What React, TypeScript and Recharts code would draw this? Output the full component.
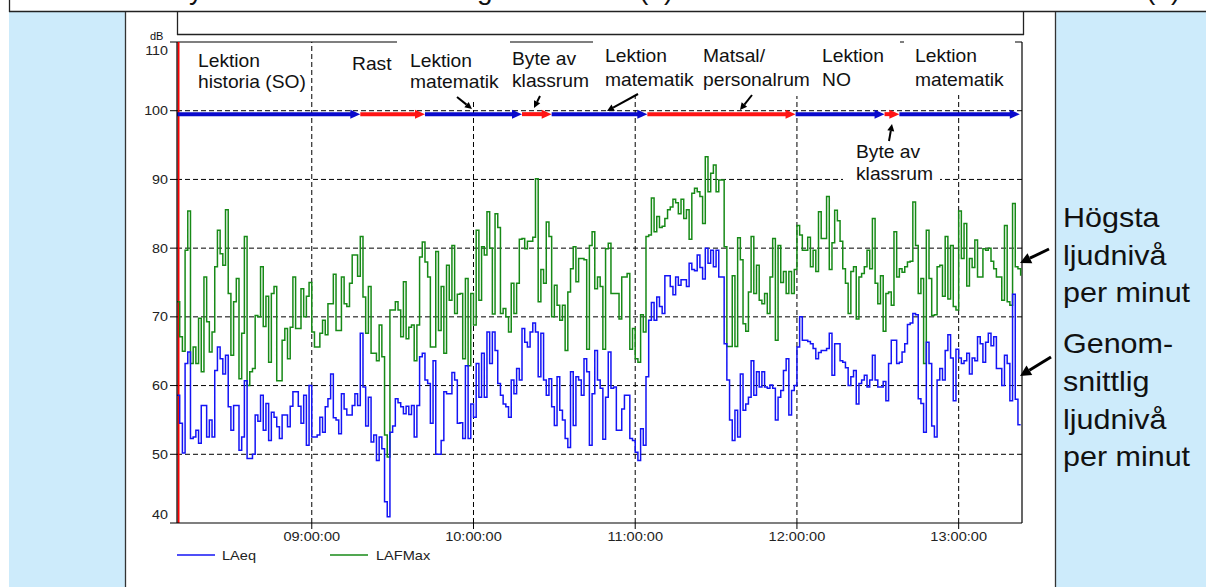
import React from 'react';
import { LineChart, Line, XAxis, YAxis, ReferenceLine } from 'recharts';

// minutes after 08:00 of first sample, one sample per minute
const START_MIN = 10;
const X_END = 323.5;

const laeqValues = [
  58.6, 54.5, 50.2, 63.2, 64.9, 52.3, 52.5, 53.5, 51.6, 57.1, 57.1, 52.5, 55, 52.5, 62.2, 65.6, 63.9, 61.7, 64.4, 56.9,
  53.5, 57.1, 57.1, 50.6, 52.5, 60.7, 49.4, 49.4, 50, 55.7, 54.8, 58.6, 53.5, 57.4, 52, 56.1, 55.4, 54, 52.3, 55.7,
  55.7, 54, 57, 59.1, 59.1, 57, 54.5, 58.6, 51.3,
  60, 52.5, 52.5, 52.8, 55.4, 53.2, 56.9, 58.1, 61.7, 55.3, 55, 53, 58.8, 56.6, 55.7, 55.7, 57.1, 58.8, 57.1, 67.6,
  59.8, 54.1, 58.3, 51.8, 52.8, 49.1, 52.5, 50.8, 43.1, 40.9, 53.2, 54.1, 58.1, 57.5, 56.9, 55.9, 57, 55.8, 57.1, 52.5,
  57.1, 64.2, 64.7, 60.8, 60.3, 54.5, 63.6, 50, 50, 52, 59.1, 58.8, 58.8, 61.9, 60.8, 54.5,
  54.6, 52.3, 62.9, 52.3, 57.3, 55.4, 63.2, 58.3, 64.7, 58.3, 67.8, 63.2, 67.8, 65.1, 60.3, 58.6, 57.3, 56.9, 55.4, 60.8,
  58.8, 62.5, 60.8, 68.3, 66.3, 65.6, 67.8, 69.1, 67.8, 61.3, 67.6, 60.8, 58.6, 61, 56.9, 54.2, 61.3, 56.4, 55, 52.3,
  51, 62, 54.2, 61.3, 60.8, 58.6, 63.9, 62, 51.3, 58.8, 65.1, 60.8,
  59.6, 52.2, 58.3, 64.9, 59.6, 59.8, 53.5, 53.5, 56.6, 58.6, 58.6, 52.3, 52, 50.3, 49.1, 53.7, 51.3, 61.3, 69.5, 72.1,
  69.5, 72.9, 71.5, 70.5, 76, 76, 74.4, 73.2, 75.8, 74.6, 75.4, 75.4, 74.4, 77.8, 76.9, 76.7, 79, 77.2, 75.5, 80,
  77.8, 79.7, 77.3, 79.7, 75.8, 75.8, 66.1, 60.8, 55, 52, 56.4, 52.5,
  61.7, 56.4, 57.3, 58.3, 63.6, 58.6, 62, 59.8, 62, 59.8, 59.6, 60.1, 59.6, 55, 58.3, 59.3, 62.2, 63.9, 55.7, 59.3,
  60, 65.6, 70, 66.6, 66.6, 66.4, 66.1, 65.4, 63.9, 64.8, 65.1, 65.1, 65.4, 67.6, 61.5, 66.1, 66.1, 63.6, 63.4, 62.6,
  60, 61.3, 62.2, 57.3, 60.3, 60.8, 61.5, 59.8, 60.8, 64.4, 60.8, 59.8,
  59.8, 60.6, 57.8, 63.2, 66.6, 66.6, 63.2, 63.4, 64.9, 66.1, 68.9, 69.1, 70.5, 70.3, 58.1, 57.4, 53.2, 66.3, 63.2, 54.1,
  52.5, 60.8, 62.5, 60.8, 65.1, 67.4, 64, 57.8, 65.3, 64, 63.2, 63.6, 64.7, 61.7, 64, 63.6, 67.1, 66.1, 63.4, 66.3,
  67.6, 65.8, 67.1, 62.5, 62.5, 60, 64.4, 63.2, 57.8, 73.3, 58, 54.3, 54.3,
];

const lafmaxValues = [
  72.2, 67.1, 65, 79.7, 85.4, 63.2, 65.6, 63.2, 69.8, 62, 75.8, 69.3, 64.9, 67.8, 77.3, 82.6, 79.2, 77.5, 85.6, 73.4,
  64.4, 72.2, 75.6, 61, 67.6, 81.7, 60, 62, 62.5, 70.2, 70, 77.3, 68.6, 73, 63.4, 73.4, 74.4, 60.7, 60.7, 66.6,
  68.3, 63.9, 68.5, 75.8, 68.3, 68.3, 74.1, 70, 73,
  75, 67.8, 65.6, 65.6, 67.6, 69.5, 67.4, 71.9, 71.9, 76.2, 68, 68, 75.8, 71.9, 71.5, 74.9, 79, 79, 75.9, 81.7,
  72.9, 67.6, 74.4, 64.7, 64.7, 63.6, 68.8, 64.2, 52.8, 49.6, 71, 71, 72.2, 71, 67.1, 75.1, 66.8, 68.5, 68.8, 63.6,
  68.8, 78.7, 80.9, 78, 75.8, 65.6, 65.6, 79.5, 68, 74.4, 64.7, 77.5, 72.4, 80.4, 70.5, 73.3,
  73.4, 63.9, 75.6, 62.9, 73.4, 68.8, 82.6, 72.4, 80.2, 79, 85.3, 80, 70.4, 85, 83, 70.5, 71.2, 70, 67.8, 74.9,
  70.5, 74.9, 81.3, 81.4, 79.9, 81, 81, 81.6, 90.1, 72.2, 76.9, 74.9, 83.8, 81.7, 70, 74.6, 71.7, 69.5, 71.7, 65.1,
  73.6, 77, 80.2, 75.1, 78.5, 78.5, 78.3, 65.3, 80.4, 82.4, 74.1, 75.8,
  74.4, 65.3, 79.9, 80.7, 73.4, 73.4, 73.4, 69.7, 75.8, 75.8, 76.3, 65.3, 68.3, 63.9, 63.4, 70.3, 67.8, 81.7, 81.9, 87.3,
  82.4, 84.6, 83, 83.2, 84.3, 85.6, 86, 87.1, 86.6, 85, 87.1, 84.3, 85.6, 81.3, 88, 88.7, 88.2, 87.5, 83.6, 93.3,
  88.2, 90.9, 92.1, 88.2, 89.9, 89.9, 80.2, 65.7, 65.7, 76, 65.7, 81.5,
  78.3, 69, 67.9, 73.6, 81.7, 73.4, 77.5, 72.4, 71.9, 73.4, 70.5, 75.8, 81.4, 66.6, 80.4, 75, 76.6, 73.4, 76.6, 73.4,
  76.9, 83.3, 81.9, 79.7, 79.7, 81.6, 77.3, 79.7, 76.6, 85.3, 81.4, 81.4, 87.5, 76.9, 80.8, 85.5, 84, 81, 77, 74.9,
  70.5, 76.6, 77.3, 69.7, 75.8, 76.3, 77.3, 79.7, 77, 84.3, 74.9, 71.9,
  76, 67.9, 73.4, 73.6, 71.7, 82.4, 75.8, 77, 76.5, 77.3, 78, 78.1, 86.7, 80.4, 73.4, 75.6, 63.2, 82.6, 75.6, 70.2,
  70.3, 77.3, 77.5, 73, 81.7, 72.6, 80.4, 71.5, 71, 85.4, 78.5, 83.6, 74.5, 78.5, 77.2, 81.2, 75.8, 75.8, 79.9, 79.7,
  80, 78.1, 77, 75.8, 75.8, 72.4, 83.3, 72.2, 71.7, 86.5, 77.3, 77, 76,
];

const hourTicks = [60, 120, 180, 240, 300];
const dbTicks = [40, 50, 60, 70, 80, 90, 100, 110];
const gridDb = [50, 60, 70, 80, 90, 100];

// activity bar (minutes after 08:00)
const activityStarts = [10, 78, 102, 138, 149, 184.5, 239.5, 272.5, 278];
const activityEnd = 322.7;
const activityKinds = ['lektion', 'rast', 'lektion', 'byte', 'lektion', 'matsal', 'lektion', 'byte', 'lektion'];
const ACTIVITY_LEVEL = 99.5;

const data = laeqValues.map((v, i) => ({ time: START_MIN + i, laeq: v, lafmax: lafmaxValues[i] }));

const FONT = "'Liberation Sans', Arial, Helvetica, sans-serif";
const BLUE = '#1414F5';
const GREEN = '#178A17';
const BAR_BLUE = '#0A0ACC';
const BAR_RED = '#FF1414';
const SIDE_BG = '#CDEBFB';

const pad = (n: number) => String(n).padStart(2, '0');
const fmtTime = (m: number) => `${pad(8 + Math.floor(m / 60))}:${pad(Math.round(m % 60))}:00`;

const XTick = (props: any) => {
  const { x, y, payload } = props;
  return (
    <text transform={`translate(${x},${y}) scale(1.12,1)`} textAnchor="middle" dy="0.71em" fontSize={13} fontFamily={FONT} fill="#222">
      {fmtTime(payload.value)}
    </text>
  );
};

const YTick = (props: any) => {
  const { x, y, payload } = props;
  const v = payload.value;
  const shift = v === 110 ? 8 : v === 40 ? -9 : 0;
  return (
    <text transform={`translate(${x},${y + shift}) scale(1.1,1)`} textAnchor="end" dy="0.355em" fontSize={13} fontFamily={FONT} fill="#222">
      {v}
    </text>
  );
};

const barShape = (color: string) => (props: any) => {
  const { x1, y1, x2 } = props;
  return (
    <g>
      <line x1={x1} y1={y1} x2={x2 - 6} y2={y1} stroke={color} strokeWidth={4} />
      <polygon points={`${x2 - 10},${y1 - 4.5} ${x2},${y1} ${x2 - 10},${y1 + 4.5}`} fill={color} />
    </g>
  );
};

const startShape = (props: any) => {
  const { x1, y1, y2 } = props;
  return <line x1={x1 + 1.5} x2={x1 + 1.5} y1={y1} y2={y2} stroke="#FF0000" strokeWidth={2} />;
};

function Arrow({ x1, y1, x2, y2, w = 2, head = 7 }: any) {
  const ang = Math.atan2(y2 - y1, x2 - x1);
  const bx = x2 - head * Math.cos(ang);
  const by = y2 - head * Math.sin(ang);
  const px = -Math.sin(ang) * head * 0.5;
  const py = Math.cos(ang) * head * 0.5;
  return (
    <g>
      <line x1={x1} y1={y1} x2={bx} y2={by} stroke="#000" strokeWidth={w} />
      <polygon points={`${x2},${y2} ${bx + px},${by + py} ${bx - px},${by - py}`} fill="#000" />
    </g>
  );
}

function T({ x, y, size = 17.5, sx = 1.1, children, fill = '#111' }: any) {
  return (
    <text transform={`translate(${x},${y}) scale(${sx},1)`} fontSize={size} fontFamily={FONT} fill={fill}>
      {children}
    </text>
  );
}

export default function App() {
  return (
    <div style={{ position: 'absolute', left: 0, top: 0, width: 1206, height: 587, background: '#fff', overflow: 'hidden', fontFamily: FONT }}>
      <div style={{ position: 'absolute', left: 9, top: 12, width: 117, height: 575, background: SIDE_BG }} />
      <div style={{ position: 'absolute', left: 1056, top: 12, width: 150, height: 575, background: SIDE_BG }} />
      <svg width={1206} height={587} style={{ position: 'absolute', left: 0, top: 0 }}>
        <line x1={9} x2={1206} y1={11.5} y2={11.5} stroke="#222" strokeWidth={1.3} />
        <line x1={9.5} x2={9.5} y1={0} y2={12} stroke="#222" strokeWidth={1.3} />
        <line x1={125.5} x2={125.5} y1={12} y2={587} stroke="#333" strokeWidth={1.3} />
        <line x1={1055.5} x2={1055.5} y1={12} y2={587} stroke="#333" strokeWidth={1.3} />
        <line x1={177.5} x2={177.5} y1={11} y2={35} stroke="#222" strokeWidth={1.3} />
        <line x1={1023.5} x2={1023.5} y1={11} y2={35} stroke="#222" strokeWidth={1.3} />
        <line x1={177} x2={1024} y1={34.5} y2={34.5} stroke="#222" strokeWidth={1.3} />
        <g fontFamily={FONT} fontSize={28} fill="#111">
          <text x={189} y={-1.5}>y</text>
          <text x={477} y={-1.5}>g</text>
          <text x={639} y={-1.5}>(a)</text>
          <text x={1146} y={-1.5}>(b)</text>
        </g>
      </svg>
      <div style={{ position: 'absolute', left: 0, top: 0 }}>
        <LineChart width={1206} height={587} data={data} margin={{ top: 42, right: 184, bottom: 34, left: 117 }}>
          <XAxis
            dataKey="time"
            type="number"
            domain={[START_MIN, X_END]}
            allowDataOverflow
            ticks={hourTicks}
            interval={0}
            height={30}
            tickSize={6}
            tickMargin={3}
            axisLine={{ stroke: '#000', strokeWidth: 1.2 }}
            tickLine={{ stroke: '#000' }}
            tick={(p: any) => <XTick {...p} />}
          />
          <YAxis
            type="number"
            domain={[40, 110]}
            allowDataOverflow
            ticks={dbTicks}
            interval={0}
            width={60}
            tickSize={7}
            tickMargin={2}
            axisLine={{ stroke: '#000', strokeWidth: 1.2 }}
            tickLine={{ stroke: '#000' }}
            tick={(p: any) => <YTick {...p} />}
          />
          {gridDb.map((v) => (
            <ReferenceLine key={'gy' + v} y={v} stroke="#000" strokeWidth={1} strokeDasharray="5 3" />
          ))}
          {hourTicks.map((v) => (
            <ReferenceLine key={'gx' + v} x={v} stroke="#000" strokeWidth={1} strokeDasharray="5 3" />
          ))}
          <ReferenceLine y={110} stroke="#000" strokeWidth={1.2} />
          <ReferenceLine x={X_END} stroke="#000" strokeWidth={1.2} />
          <ReferenceLine x={START_MIN} stroke="#FF0000" shape={startShape} />
          <Line type="stepAfter" dataKey="lafmax" stroke={GREEN} strokeWidth={1.5} dot={false} isAnimationActive={false} />
          <Line type="stepAfter" dataKey="laeq" stroke={BLUE} strokeWidth={1.5} dot={false} isAnimationActive={false} />
          {activityStarts.map((s, i) => {
            const e = i < activityStarts.length - 1 ? activityStarts[i + 1] : activityEnd;
            const color = activityKinds[i] === 'lektion' ? BAR_BLUE : BAR_RED;
            return (
              <ReferenceLine
                key={'act' + i}
                segment={[{ x: s, y: ACTIVITY_LEVEL }, { x: e, y: ACTIVITY_LEVEL }]}
                stroke={color}
                shape={barShape(color)}
              />
            );
          })}
        </LineChart>
      </div>
      <svg width={1206} height={587} style={{ position: 'absolute', left: 0, top: 0, pointerEvents: 'none' }}>
        <rect x={397} y={38} width={113} height={63} fill="#fff" />
        <rect x={593} y={38} width={307} height={58} fill="#fff" />
        <rect x={904} y={38} width={111} height={57} fill="#fff" />
        <rect x={843} y={138} width={97} height={50} fill="#fff" />

        <T x={150} y={40} size={10}>dB</T>

        <T x={198} y={67}>Lektion</T>
        <T x={198} y={88}>historia (SO)</T>
        <T x={352} y={70}>Rast</T>
        <T x={410} y={67}>Lektion</T>
        <T x={410} y={88}>matematik</T>
        <T x={512} y={65}>Byte av</T>
        <T x={512} y={87}>klassrum</T>
        <T x={605} y={62}>Lektion</T>
        <T x={605} y={86}>matematik</T>
        <T x={703} y={62}>Matsal/</T>
        <T x={703} y={86}>personalrum</T>
        <T x={822} y={62}>Lektion</T>
        <T x={822} y={86}>NO</T>
        <T x={915} y={62}>Lektion</T>
        <T x={915} y={86}>matematik</T>
        <T x={856} y={158}>Byte av</T>
        <T x={856} y={180}>klassrum</T>

        <Arrow x1={457} y1={97} x2={472} y2={109} />
        <Arrow x1={540} y1={96} x2={534} y2={108} />
        <Arrow x1={638} y1={94} x2={607} y2={111} />
        <Arrow x1={752} y1={95} x2={740} y2={110} />
        <Arrow x1={889} y1={141} x2={892} y2={124} />

        <line x1={177} x2={215} y1={555} y2={555} stroke={BLUE} strokeWidth={1.5} />
        <T x={222} y={559.5} size={13} sx={1.12} fill="#222">LAeq</T>
        <line x1={330} x2={368} y1={555} y2={555} stroke={GREEN} strokeWidth={1.5} />
        <T x={376} y={559.5} size={13} sx={1.12} fill="#222">LAFMax</T>

        <T x={1063} y={227} size={28.5} sx={1.07} fill="#111">Högsta</T>
        <T x={1063} y={265} size={28.5} sx={1.07} fill="#111">ljudnivå</T>
        <T x={1063} y={302} size={28.5} sx={1.07} fill="#111">per minut</T>
        <T x={1063} y={353} size={28.5} sx={1.07} fill="#111">Genom-</T>
        <T x={1063} y={391} size={28.5} sx={1.07} fill="#111">snittlig</T>
        <T x={1063} y={429} size={28.5} sx={1.07} fill="#111">ljudnivå</T>
        <T x={1063} y={466} size={28.5} sx={1.07} fill="#111">per minut</T>

        <Arrow x1={1049} y1={249} x2={1020} y2={263} w={3} head={11} />
        <Arrow x1={1051} y1={357} x2={1020} y2={376} w={3} head={11} />
      </svg>
    </div>
  );
}
